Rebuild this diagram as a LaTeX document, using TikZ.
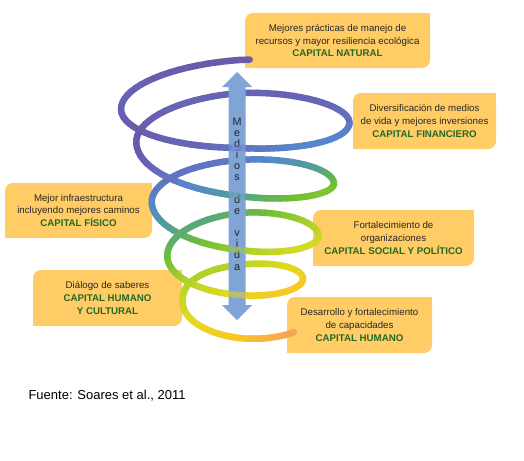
\documentclass[tikz,border=0pt]{standalone}
\usepackage{fontspec}
\setmainfont{Liberation Sans}

\definecolor{boxfill}{RGB}{255,204,102}
\definecolor{capgreen}{RGB}{35,105,35}
\definecolor{bodytext}{RGB}{40,40,40}
\definecolor{axisblue}{RGB}{128,164,214}
% colours along the coil, top to bottom
\definecolor{sp0}{RGB}{106,90,170}
\definecolor{sp1}{RGB}{100,110,190}
\definecolor{sp2}{RGB}{85,135,205}
\definecolor{sp3}{RGB}{80,160,150}
\definecolor{sp4}{RGB}{110,190,55}
\definecolor{sp5}{RGB}{175,210,40}
\definecolor{sp6}{RGB}{225,218,30}
\definecolor{sp7}{RGB}{250,200,35}
\definecolor{sp8}{RGB}{245,155,100}

% coil: half width, centre line and half height at every quarter turn
\def\alist{{126,122,118,114,110.5,106.6,102.75,98.9,95,91,87.25,83.4,79.5,75.6,71.75,67.9,64,60,56.25,62,70,72}}
\def\clist{{90,100,110,116,122,132,143,163,183,193,203,219,235,246,257,267,278,289,300,310,320,330}}
\def\blist{{40,40,36,32,35.5,39,36,33,33,33,32,31,32,33,30.5,28,26,24,26,28,28,28}}

\newcommand{\coilpt}[3]{%
  \pgfmathsetmacro\hxk{#1/90}%
  \pgfmathtruncatemacro\hxi{floor(\hxk)}%
  \pgfmathtruncatemacro\hxj{\hxi+1}%
  \pgfmathsetmacro\hxf{\hxk-\hxi}%
  \pgfmathsetmacro\hxa{\alist[\hxi]*(1-\hxf)+\alist[\hxj]*\hxf}%
  \pgfmathsetmacro\hxc{\clist[\hxi]*(1-\hxf)+\clist[\hxj]*\hxf}%
  \pgfmathsetmacro\hxb{\blist[\hxi]*(1-\hxf)+\blist[\hxj]*\hxf}%
  \pgfmathsetmacro#2{239+\hxa*cos(#1)}%
  \pgfmathsetmacro#3{\hxc-\hxb*sin(#1)}%
}
\newcommand{\coilseg}[2]{%
  \coilpt{#1}{\ax}{\ay}%
  \pgfmathsetmacro\tb{#1+5}%
  \coilpt{\tb}{\bx}{\by}%
  \pgfmathsetmacro\mx{(\ax+\bx)/2}%
  \pgfmathsetmacro\my{(\ay+\by)/2}%
  \pgfmathsetmacro\segq{\my<150 ? max(0,(\my-65)*0.00176) : (\my<200 ? 0.15+0.005*(\my-150) : (\my<300 ? 0.4+0.004*(\my-200) : 0.8+0.002*(\my-300)))}%
  \pgfmathsetmacro\segp{min(1,max(0,\segq+0.002*min(1,max(0,(\my-100)/60))*(\mx-239)))}%
  \pgfmathtruncatemacro\segi{min(7,floor(\segp*8))}%
  \pgfmathtruncatemacro\segj{\segi+1}%
  \pgfmathsetmacro\segf{(\segp*8-\segi)*100}%
  \colorlet{segc}{sp\segj!\segf!sp\segi}%
  \draw[coil, draw=segc, opacity=#2] (\ax,\ay) -- (\bx,\by);%
}
\newcommand{\capline}[1]{\textcolor{capgreen}{\bfseries #1}}

\begin{document}
\begin{tikzpicture}[x=1pt, y=-1pt,
  box/.style={fill=boxfill, rounded corners=8pt, align=center, inner sep=0pt,
    text=bodytext, font=\fontsize{9.7}{12.7}\selectfont},
  coil/.style={line width=6.5pt, line cap=round}
]
\fill[white] (0,0) rectangle (524,460);
\useasboundingbox (0,0) rectangle (524,460);

\node[box, minimum width=185pt, minimum height=55pt] (natural) at (337.5,40.5)
  {Mejores prácticas de manejo de\\recursos y mayor resiliencia ecológica\\\capline{CAPITAL NATURAL}};
\node[box, minimum width=143pt, minimum height=56pt] (financiero) at (424.5,121)
  {Diversificación de medios\\de vida y mejores inversiones\\\capline{CAPITAL FINANCIERO}};
\node[box, minimum width=147pt, minimum height=55pt] (fisico) at (78.5,210.5)
  {Mejor infraestructura\\incluyendo mejores caminos\\\capline{CAPITAL FÍSICO}};
\node[box, minimum width=161pt, minimum height=56pt] (social) at (393.5,238)
  {Fortalecimiento de\\organizaciones\\\capline{CAPITAL SOCIAL Y POLÍTICO}};
\node[box, minimum width=149pt, minimum height=56pt] (cultural) at (107.5,298)
  {Diálogo de saberes\\\capline{CAPITAL HUMANO}\\\capline{Y CULTURAL}};
\node[box, minimum width=145pt, minimum height=56pt] (humano) at (359.5,325)
  {Desarrollo y fortalecimiento\\de capacidades\\\capline{CAPITAL HUMANO}};

% square off the other two corners
\foreach \b in {natural,financiero,fisico,social,cultural,humano}{
  \fill[boxfill] (\b.north east) rectangle ++(-8pt,-8pt);
  \fill[boxfill] (\b.south west) rectangle ++(8pt,8pt);
}

% the coil
\foreach \t in {85,90,...,1760}{\coilseg{\t}{1}}

% axis arrow
\fill[axisblue] (237,72) -- (252,87) -- (245.5,87) -- (245.5,305) -- (252,305)
  -- (237,320) -- (222,305) -- (228.5,305) -- (228.5,87) -- (222,87) -- cycle;
\node[font=\fontsize{10.8}{11.15}\selectfont, align=center, text=black!85, inner sep=0pt]
  (medios) at (237,194) {M\\e\\d\\i\\o\\s\\\mbox{}\\d\\e\\\mbox{}\\v\\i\\d\\a};

% front arcs show through the arrow
\foreach \n in {270,630,990,1350,1710}{
  \foreach \d in {-25,-20,...,20}{\pgfmathsetmacro\ft{\n+\d}\coilseg{\ft}{0.35}}
}

\node[anchor=west, font=\fontsize{13}{16}\selectfont] (fuente) at (25,396)
  {Fuente: Soares et al., 2011};
\end{tikzpicture}
\end{document}
